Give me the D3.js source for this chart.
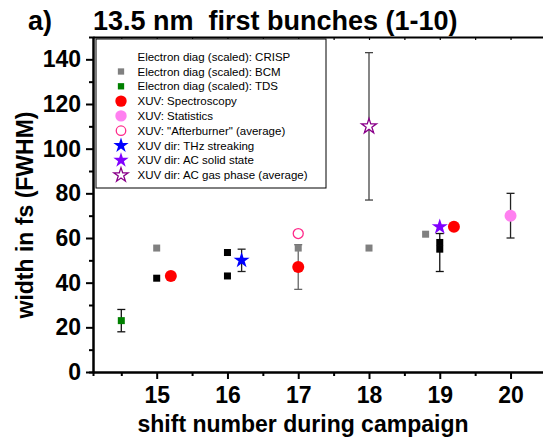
<!DOCTYPE html>
<html lang="en">
<head>
<meta charset="utf-8">
<script src="https://cdn.jsdelivr.net/npm/d3@7"></script>
<style>
  body { margin: 0; background: #fff; }
  text { font-family: "Liberation Sans", Arial, sans-serif; }
</style>
</head>
<body>
<svg id="chart" width="543" height="440"></svg>
<script>
// data (x = shift number, y = width in fs FWHM, lo/hi = error bar ends)
var crispX = [15, 16, 16, 19, 19];
var crispY = [42, 53.5, 43, 58, 55];
var crispLo = [null, null, null, 45, null];
var crispHi = [null, null, null, 62, null];

var bcmX = [15, 17, 18, 18.8];
var bcmY = [55.5, 55.5, 55.5, 61.7];

var tdsX = [14.5];
var tdsY = [23];
var tdsLo = [18];
var tdsHi = [28];

var specX = [15.2, 17, 19.2];
var specY = [43, 47, 65];
var specLo = [null, 37, null];
var specHi = [null, 57, null];

var statX = [20];
var statY = [70];
var statLo = [60];
var statHi = [80];

var afterX = [17];
var afterY = [62];

var thzX = [16.2];
var thzY = [50];
var thzLo = [45];
var thzHi = [55];

var acSolidX = [19];
var acSolidY = [65];

var acGasX = [18];
var acGasY = [110];
var acGasLo = [77];
var acGasHi = [143];

var xMajor = [15, 16, 17, 18, 19, 20];
var xMinor = [14.5, 15.5, 16.5, 17.5, 18.5, 19.5, 20.5];
var yMajor = [0, 20, 40, 60, 80, 100, 120, 140];
var yMinor = [10, 30, 50, 70, 90, 110, 130];

var legendLabels = [
  "Electron diag (scaled): CRISP",
  "Electron diag (scaled): BCM",
  "Electron diag (scaled): TDS",
  "XUV: Spectroscopy",
  "XUV: Statistics",
  "XUV: \"Afterburner\" (average)",
  "XUV dir: THz streaking",
  "XUV dir: AC solid state",
  "XUV dir: AC gas phase (average)"
];

function zip(xs, ys, lo, hi) {
  return xs.map(function(x, i) {
    return {x: x, y: ys[i], lo: lo ? lo[i] : null, hi: hi ? hi[i] : null};
  });
}

var series = [
  {name: legendLabels[0], pts: zip(crispX, crispY, crispLo, crispHi), shape: "square", size: 7, fill: "#000", stroke: "none", bar: "#111", inLegend: false},
  {name: legendLabels[1], pts: zip(bcmX, bcmY), shape: "square", size: 7, fill: "#808080", stroke: "none"},
  {name: legendLabels[2], pts: zip(tdsX, tdsY, tdsLo, tdsHi), shape: "square", size: 7, fill: "#008000", stroke: "none", bar: "#111"},
  {name: legendLabels[3], pts: zip(specX, specY, specLo, specHi), shape: "circle", size: 6, fill: "#ff0000", stroke: "none", bar: "#666"},
  {name: legendLabels[4], pts: zip(statX, statY, statLo, statHi), shape: "circle", size: 6, fill: "#ff80f0", stroke: "none", bar: "#222"},
  {name: legendLabels[5], pts: zip(afterX, afterY), shape: "circle", size: 5, fill: "#fff", stroke: "#ff2a8a"},
  {name: legendLabels[6], pts: zip(thzX, thzY, thzLo, thzHi), shape: "star", size: 80, fill: "#0000ff", stroke: "none", bar: "#222"},
  {name: legendLabels[7], pts: zip(acSolidX, acSolidY), shape: "star", size: 80, fill: "#8000ff", stroke: "none"},
  {name: legendLabels[8], pts: zip(acGasX, acGasY, acGasLo, acGasHi), shape: "star", size: 70, fill: "#fff", stroke: "#8a008a", bar: "#444"}
];

var svg = d3.select("#chart");

var x = d3.scaleLinear().domain([14.1, 20.6]).range([93, 553]);
var y = d3.scaleLinear().domain([0, 150]).range([372, 37]);

// axes
svg.append("g").attr("transform", "translate(0,372)")
  .call(d3.axisBottom(x).tickValues(xMajor).tickSizeInner(7).tickSizeOuter(0).tickPadding(8).tickFormat(d3.format("d")));
svg.append("g").attr("transform", "translate(0,372)")
  .call(d3.axisBottom(x).tickValues(xMinor).tickSize(4).tickFormat(""));
svg.append("g").attr("transform", "translate(93,0)")
  .call(d3.axisLeft(y).tickValues(yMajor).tickSizeInner(7).tickSizeOuter(0).tickPadding(5));
svg.append("g").attr("transform", "translate(93,0)")
  .call(d3.axisLeft(y).tickValues(yMinor).tickSize(4).tickFormat(""));
var topAxis = svg.append("g").attr("transform", "translate(0,37)")
  .call(d3.axisTop(x).tickValues(xMinor.concat(xMajor)).tickSizeInner(-3).tickSizeOuter(0).tickFormat(""));

svg.selectAll(".domain").attr("stroke", "#000").attr("stroke-width", 2);
svg.selectAll(".tick line").attr("stroke", "#000").attr("stroke-width", 2);
topAxis.selectAll(".tick line").attr("stroke-width", 1.2);
svg.selectAll(".tick text")
  .attr("fill", "#000")
  .style("font-size", "23px")
  .style("font-weight", "bold");

// axis titles
svg.append("text")
  .attr("x", 303).attr("y", 432)
  .attr("text-anchor", "middle")
  .style("font-size", "23px").style("font-weight", "bold")
  .text("shift number during campaign");

svg.append("text")
  .attr("transform", "translate(33,215) rotate(-90)")
  .attr("text-anchor", "middle")
  .style("font-size", "23px").style("font-weight", "bold")
  .text("width in fs (FWHM)");

// title
svg.append("text")
  .attr("x", 28).attr("y", 30)
  .style("font-size", "27px").style("font-weight", "bold")
  .text("a)");
svg.append("text")
  .attr("x", 93).attr("y", 30)
  .style("font-size", "27px").style("font-weight", "bold")
  .style("white-space", "pre")
  .text("13.5 nm  first bunches (1-10)");

function drawMarker(g, s, cx, cy, scale) {
  scale = scale || 1;
  if (s.shape === "square") {
    var w = s.size * scale;
    g.append("rect").attr("x", cx - w / 2).attr("y", cy - w / 2)
      .attr("width", w).attr("height", w).attr("fill", s.fill);
  } else if (s.shape === "circle") {
    g.append("circle").attr("cx", cx).attr("cy", cy).attr("r", s.size * scale)
      .attr("fill", s.fill).attr("stroke", s.stroke).attr("stroke-width", 1.3);
  } else {
    g.append("path")
      .attr("d", d3.symbol().type(d3.symbolStar).size(s.size * scale * scale)())
      .attr("transform", "translate(" + cx + "," + cy + ")")
      .attr("fill", s.fill).attr("stroke", s.stroke).attr("stroke-width", 1.3);
  }
}

// error bars
var bars = svg.append("g");
series.forEach(function(s) {
  s.pts.forEach(function(p) {
    if (p.lo == null) return;
    var px = x(p.x);
    bars.append("line").attr("x1", px).attr("x2", px).attr("y1", y(p.lo)).attr("y2", y(p.hi))
      .attr("stroke", s.bar).attr("stroke-width", 1.3);
    [p.lo, p.hi].forEach(function(v) {
      bars.append("line").attr("x1", px - 4).attr("x2", px + 4).attr("y1", y(v)).attr("y2", y(v))
        .attr("stroke", s.bar).attr("stroke-width", 1.3);
    });
  });
});

// markers
var marks = svg.append("g");
series.forEach(function(s) {
  s.pts.forEach(function(p) {
    drawMarker(marks, s, x(p.x), y(p.y));
  });
});

// legend
var legend = svg.append("g");
legend.append("rect")
  .attr("x", 96).attr("y", 39).attr("width", 230).attr("height", 149)
  .attr("fill", "#fff").attr("stroke", "#000").attr("stroke-width", 1);
series.forEach(function(s, i) {
  var ly = 56.7 + i * 14.8;
  if (s.inLegend !== false) drawMarker(legend, s, 121, ly, s.shape === "square" ? 0.9 : 0.95);
  legend.append("text")
    .attr("x", 137.5).attr("y", ly).attr("dy", "0.36em")
    .style("font-size", "11.5px")
    .text(s.name);
});
</script>
</body>
</html>
